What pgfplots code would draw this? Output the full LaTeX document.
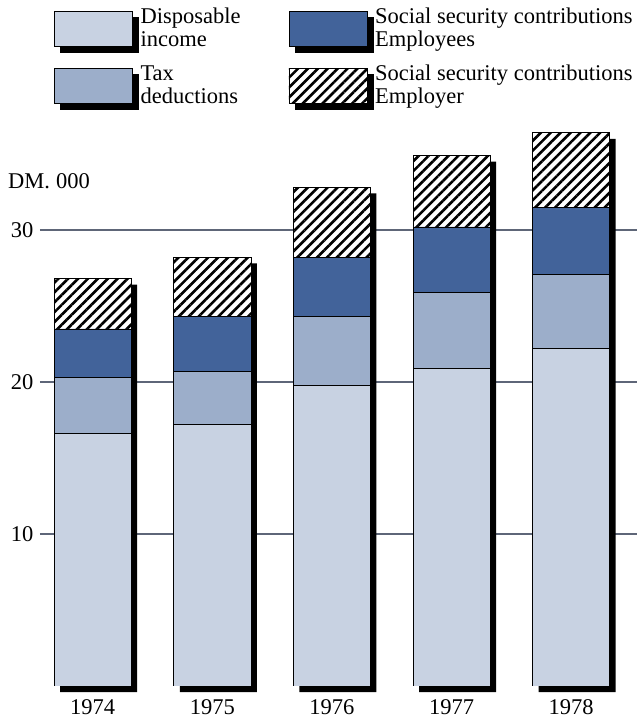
\documentclass[border=0pt]{standalone}
\usepackage{fontspec}
\setmainfont{Liberation Serif}
\usepackage{pgfplots}
\pgfplotsset{compat=1.18}
\usetikzlibrary{patterns.meta}
\definecolor{dispc}{HTML}{C8D2E2}
\definecolor{taxc}{HTML}{9CAECA}
\definecolor{empc}{HTML}{42639A}
\definecolor{gridc}{HTML}{5E6678}
\begin{document}
\fontsize{22.5}{23}\selectfont
\begin{tikzpicture}
\path[use as bounding box] (-40pt,-37pt) rectangle (603pt,686pt);
\pgfplotsset{base/.style={scale only axis, width=597pt, height=566pt,
  xmin=-0.44, xmax=4.55, ymin=0, ymax=37.24,
  axis line style={draw=none}, tick style={draw=none},
  /pgf/number format/assume math mode=true,
  ticklabel style={font=\fontsize{22.5}{23}\selectfont}}}
\begin{axis}[base, clip=false,
  ytick={10,20,30}, ymajorgrids, grid style={color=gridc, line width=1.1pt},
  yticklabel style={xshift=1pt},
  xtick={0,...,4}, xticklabels={1974,1975,1976,1977,1978},
  xticklabel style={yshift=-6pt}]
\addplot[ybar, fill=black, draw=none, bar width=0.644, bar shift=6pt, yshift=-6pt]
  coordinates {(0,26.8) (1,28.2) (2,32.8) (3,34.9) (4,36.4)};
\node[anchor=west, xshift=-32pt, inner sep=0pt] at (axis cs:-0.44,33.2) {DM.\kern6pt000};
\end{axis}
\begin{axis}[base, ybar stacked, bar width=0.644, xtick=\empty, ytick=\empty,
  legend columns=2, transpose legend,
  legend style={draw=none, fill=none, at={(0.018,1.205)}, anchor=north west,
    row sep=10pt, font=\fontsize{22.5}{23}\selectfont,
    /tikz/every even column/.append style={column sep=46pt},
    cells={align=left, anchor=west}},
  legend image code/.code={
    \fill[black] (6pt,-23.5pt) rectangle (84pt,11.5pt);
    \draw[#1] (0pt,-17.5pt) rectangle (78pt,17.5pt);}]
\addplot[fill=dispc, draw=black, line width=0.6pt]
  coordinates {(0,16.6) (1,17.2) (2,19.8) (3,20.9) (4,22.2)};
\addlegendentry{Disposable\\income}
\addplot[fill=taxc, draw=black, line width=0.6pt]
  coordinates {(0,3.7) (1,3.5) (2,4.5) (3,5.0) (4,4.9)};
\addlegendentry{Tax\\deductions}
\addplot[fill=empc, draw=black, line width=0.6pt]
  coordinates {(0,3.2) (1,3.6) (2,3.9) (3,4.3) (4,4.4)};
\addlegendentry{Social security contributions\\Employees}
\addplot[preaction={fill=white}, pattern={Lines[angle=45,distance=7pt,line width=2.6pt]}, draw=black, line width=0.6pt]
  coordinates {(0,3.3) (1,3.9) (2,4.6) (3,4.7) (4,4.9)};
\addlegendentry{Social security contributions\\Employer}
\end{axis}
\end{tikzpicture}
\end{document}
